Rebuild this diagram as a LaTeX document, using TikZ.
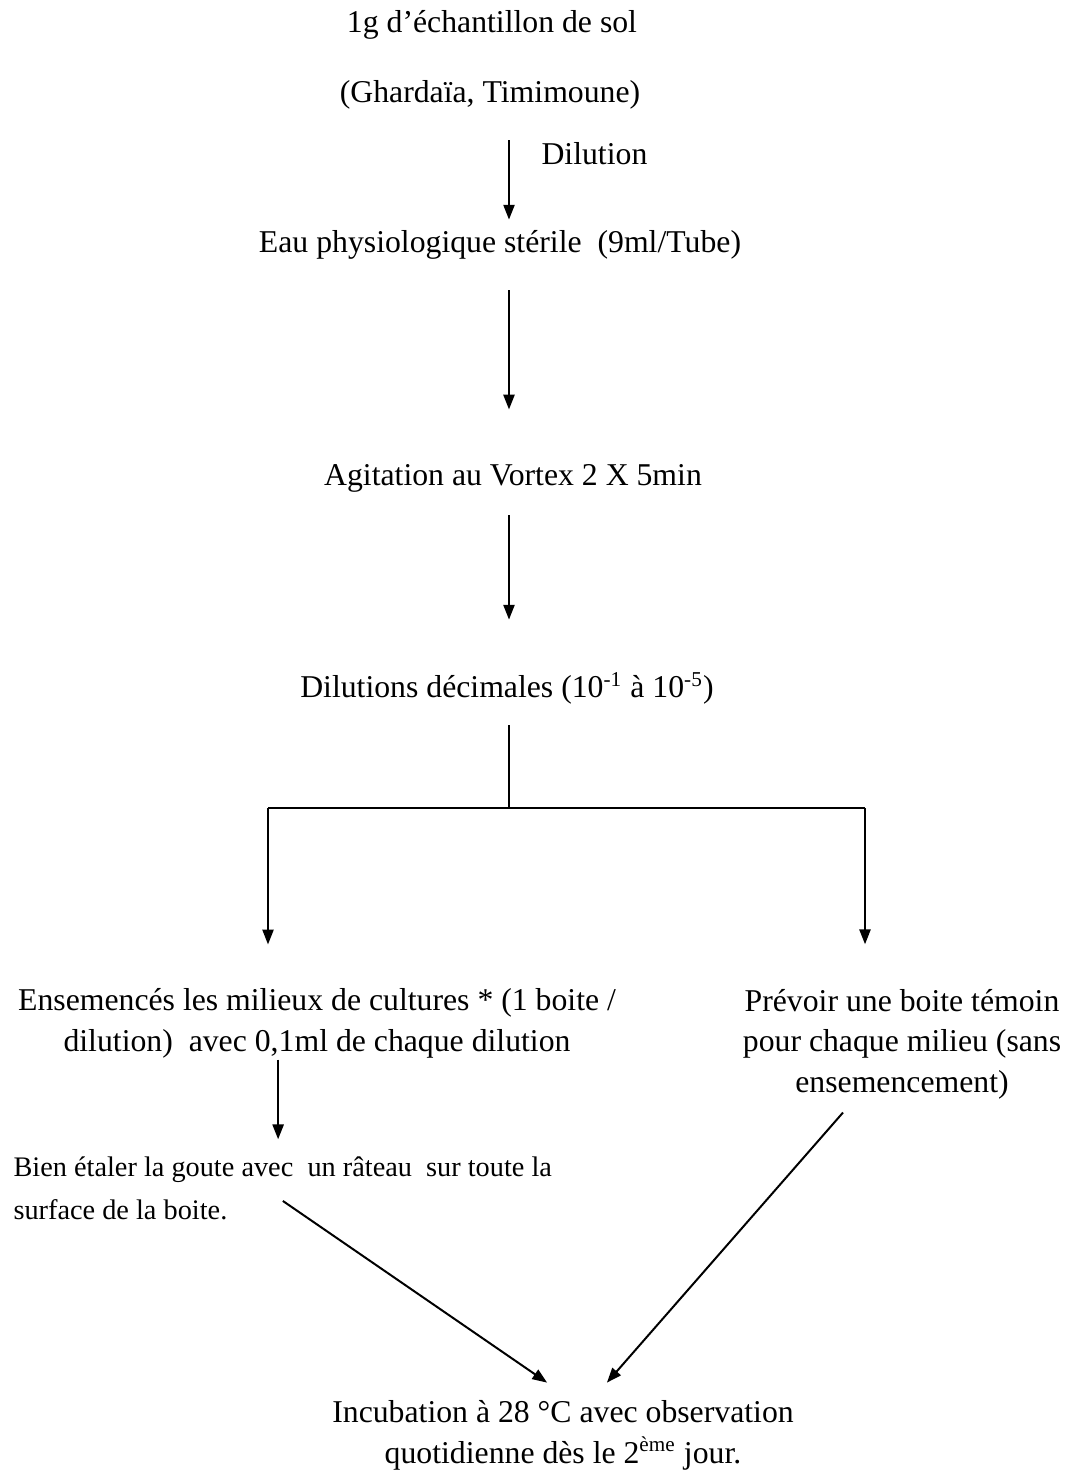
\documentclass[tikz,border=0pt]{standalone}
\usepackage{fontspec}
\setmainfont{Liberation Serif}
\usepackage{tikz}
\usetikzlibrary{arrows.meta}

\begin{document}
\begin{tikzpicture}[
            x=.378pt, y=-.378pt,
            stage/.style={font=\fontsize{12}{15.2}\selectfont, inner sep=0pt,
                text height=9pt, text depth=3pt, align=center},
            twolines/.style={text height=24.2pt},
            threelines/.style={text height=39.4pt},
            small/.style={font=\fontsize{10.7}{16.2}\selectfont, inner sep=0pt,
                text height=24.2pt, text depth=2.5pt, align=left},
            link/.style={line width=.75pt},
            arr/.style={link, -{Triangle[length=5.6pt, width=4.2pt]}},
        ]
            \useasboundingbox (0, 0) rectangle (1064, 1470);

            %% the soil sample and its first steps
            \node[stage] (sample) at (492, 25) {1g d’échantillon de sol};
            \node[stage] (origin) at (490, 95) {(Ghardaïa, Timimoune)};
            \node[stage] (eau) at (500, 245) {Eau physiologique stérile~ (9ml/Tube)};
            \node[stage] (vortex) at (513, 478) {Agitation au Vortex 2 X 5min};
            \node[stage] (dil) at (507, 690)
                {Dilutions décimales (10\textsuperscript{-1} à 10\textsuperscript{-5})};
            \node[stage, anchor=west] (dilLbl) at (541, 157) {Dilution};

            \coordinate (spine) at (509, 0);
            \draw[arr, shorten <=11pt, shorten >=3.4pt] (origin.south -| spine) -- (eau.north -| spine);
            \draw[arr, shorten <=11pt, shorten >=19.7pt] (eau.south -| spine) -- (vortex.north -| spine);
            \draw[arr, shorten <=7.9pt, shorten >=20.4pt] (vortex.south -| spine) -- (dil.north -| spine);

            %% the two branches
            \node[stage, twolines] (ense) at (317, 1023)
                {Ensemencés les milieux de cultures * (1 boite /\\
                 dilution)~ avec 0,1ml de chaque dilution};
            \node[stage, threelines] (temoin) at (902, 1044)
                {Prévoir une boite témoin\\ pour chaque milieu (sans\\ ensemencement)};

            \coordinate (fork) at (509, 808);
            \coordinate (brL) at (268, 808);
            \coordinate (brR) at (865, 808);
            \draw[link, shorten <=7.2pt] (dil.south -| spine) -- (fork);
            \draw[link] (brL) -- (brR);
            \draw[arr, shorten >=15.9pt] (brL) -- (brL |- ense.north);
            \draw[arr, shorten >=16.3pt] (brR) -- (brR |- temoin.north);

            \node[small, anchor=west] (bien) at (13, 1191)
                {Bien étaler la goute avec~ un râteau~ sur toute la\\ surface de la boite.};
            \draw[arr, shorten >=6pt]
                ([xshift=-14.7pt]ense.south) -- ([xshift=-14.7pt]ense.south |- bien.north);

            %% both end up in the incubator
            \node[stage, twolines] (incub) at (563, 1435)
                {Incubation à 28 °C avec observation\\ quotidienne dès le 2\textsuperscript{ème} jour.};
            \draw[arr] ([xshift=102pt, yshift=9.8pt]bien.south west) -- ([xshift=-6pt, yshift=6pt]incub.north);
            \draw[arr] ([xshift=-22.3pt, yshift=-4.5pt]temoin.south) -- ([xshift=16.6pt, yshift=6pt]incub.north);
        \end{tikzpicture}
\end{document}
